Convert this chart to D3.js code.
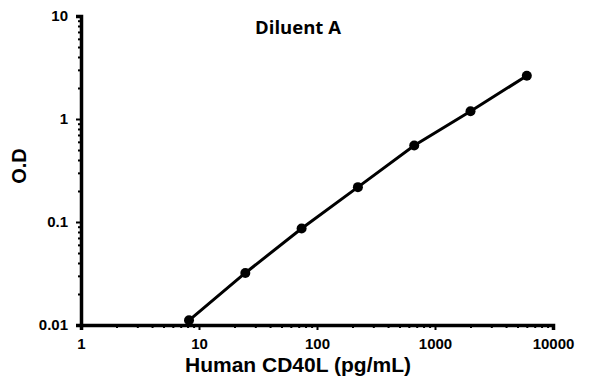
<!DOCTYPE html>
<html lang="en">
<head>
  <meta charset="UTF-8">
  <title>Diluent A</title>
  <script src="https://d3js.org/d3.v7.min.js"></script>
  <style>
    body {
      margin: 0;
      background-color: #ffffff;
      font-family: "Liberation Sans", Arial, sans-serif;
    }
    svg text {
      font-weight: bold;
      fill: #000000;
    }
  </style>
</head>
<body>
  <div id="chart"></div>

  <script>
    // Standard curve data (3-fold dilution)
    const concentrations = [8.23, 24.69, 74.07, 222.2, 666.7, 2000, 6000];
    const odValues = [0.0111, 0.032, 0.0865, 0.218, 0.552, 1.19, 2.63];
    const xTickValues = [1, 10, 100, 1000, 10000];
    const yTickValues = [0.01, 0.1, 1, 10];

    const width = 596, height = 384;
    const margin = { top: 16, right: 43, bottom: 59, left: 81 };

    const svg = d3.select('#chart')
      .append('svg')
      .attr('width', width)
      .attr('height', height);

    const x = d3.scaleLog()
      .domain([1, 10000])
      .range([margin.left, width - margin.right]);

    const y = d3.scaleLog()
      .domain([0.01, 10])
      .range([height - margin.bottom, margin.top]);

    // minor ticks (2..9 of each decade)
    const xMinor = [];
    for (let d = 1; d < 10000; d *= 10) {
      for (let k = 2; k < 10; k++) xMinor.push(d * k);
    }
    const yMinor = [];
    for (let d = 0.01; d < 9; d *= 10) {
      for (let k = 2; k < 10; k++) yMinor.push(d * k);
    }

    const tickFont = g => g.selectAll('text')
      .style('font-size', '15px')
      .style('font-family', '"Liberation Sans", Arial, sans-serif');

    // x axis
    const xAxisG = svg.append('g')
      .attr('transform', `translate(0, ${height - margin.bottom})`);
    xAxisG.append('g')
      .call(d3.axisBottom(x).tickValues(xMinor).tickSize(3).tickFormat(''))
      .call(g => g.select('.domain').remove())
      .call(g => g.selectAll('line').attr('stroke-width', 2));
    xAxisG.append('g')
      .call(d3.axisBottom(x).tickValues(xTickValues).tickSize(5).tickPadding(8)
        .tickFormat(d3.format('d')))
      .call(g => g.select('.domain').attr('stroke-width', 3.5))
      .call(g => g.selectAll('line').attr('stroke-width', 2))
      .call(tickFont);

    // y axis
    const yAxisG = svg.append('g')
      .attr('transform', `translate(${margin.left}, 0)`);
    yAxisG.append('g')
      .call(d3.axisLeft(y).tickValues(yMinor).tickSize(3).tickFormat(''))
      .call(g => g.select('.domain').remove())
      .call(g => g.selectAll('line').attr('stroke-width', 2));
    yAxisG.append('g')
      .call(d3.axisLeft(y).tickValues(yTickValues).tickSize(5).tickPadding(8)
        .tickFormat(d => d >= 1 ? d3.format('d')(d) : String(d)))
      .call(g => g.select('.domain').attr('stroke-width', 3.5))
      .call(g => g.selectAll('line').attr('stroke-width', 2))
      .call(tickFont);

    // data line
    const data = concentrations.map((c, i) => ({ c: c, od: odValues[i] }));
    svg.append('path')
      .datum(data)
      .attr('fill', 'none')
      .attr('stroke', '#000000')
      .attr('stroke-width', 3)
      .attr('d', d3.line().x(d => x(d.c)).y(d => y(d.od)));

    svg.selectAll('circle')
      .data(data)
      .enter()
      .append('circle')
      .attr('cx', d => x(d.c))
      .attr('cy', d => y(d.od))
      .attr('r', 5)
      .attr('fill', '#000000');

    // title and axis labels
    svg.append('text')
      .attr('x', 298)
      .attr('y', 34)
      .attr('text-anchor', 'middle')
      .style('font-size', '18.5px')
      .style('font-family', '"Open Sans", "Liberation Sans", sans-serif')
      .text('Diluent A');

    svg.append('text')
      .attr('x', 298)
      .attr('y', 372)
      .attr('text-anchor', 'middle')
      .style('font-size', '21px')
      .text('Human CD40L (pg/mL)');

    svg.append('text')
      .attr('transform', 'translate(26, 166) rotate(-90)')
      .attr('text-anchor', 'middle')
      .style('font-size', '20px')
      .text('O.D');
  </script>
</body>
</html>
